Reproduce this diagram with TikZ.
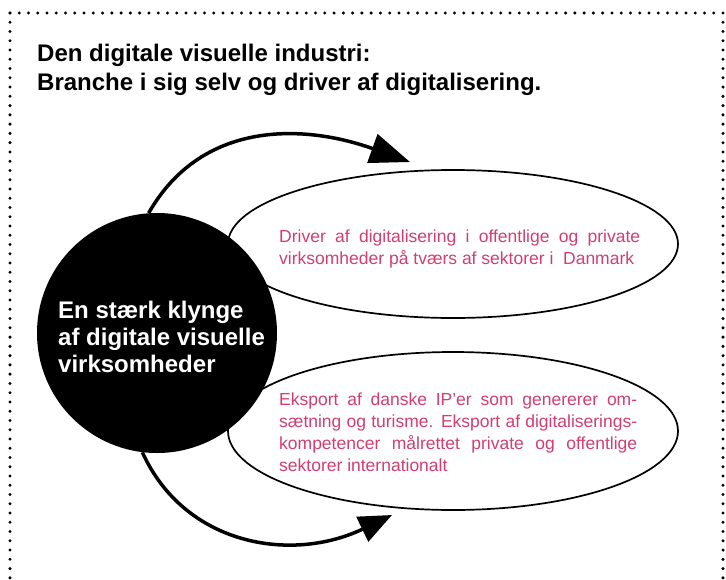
\documentclass[tikz,border=0pt]{standalone}
\usepackage{fontspec}
\setmainfont{Liberation Sans}
\usetikzlibrary{shapes.geometric,arrows.meta}
\definecolor{klyngepink}{RGB}{210,62,110}

\tikzset{
  prik/.style={line width=3.3pt,line cap=round,dash pattern=on 0pt off 9.26pt},
  felt/.style={draw,ellipse,line width=1.7pt,inner sep=0pt},
  felttekst/.style={text=klyngepink,font=\fontsize{17.5}{22}\selectfont,align=justify,inner sep=0pt,anchor=north west},
  pil/.style={line width=3.5pt,-{Triangle[length=40pt,width=30pt]}}
}

\begin{document}
\begin{tikzpicture}[x=1pt,y=-1pt]
\useasboundingbox (0,0) rectangle (726,579);
% ramme
\draw[prik] (10,13) -- (723,13) -- (723,600);
\draw[prik] (10,13) -- (10,600);
% overskrift
\node[anchor=north west,inner sep=0pt,align=left,font=\bfseries\fontsize{24}{29}\selectfont] (titel) at (37,43.5) {Den digitale visuelle industri:\\Branche i sig selv og driver af digitalisering.};
% felter
\node[felt,minimum width=450pt,minimum height=148pt] (driver) at (453,244) {};
\node[felt,minimum width=450pt,minimum height=158pt] (eksport) at (453,431) {};
\node[felttekst,text width=361pt] (drivertekst) at (279,229.2) {Driver af digitalisering i offentlige og private\linebreak virksomheder på tværs af sektorer i\ \ Danmark};
\node[felttekst,text width=358pt] (eksporttekst) at (279,393) {Eksport af danske IP’er som genererer om-\linebreak sætning og turisme. Eksport af digitaliserings-\linebreak kompetencer målrettet private og offentlige\linebreak sektorer internationalt};
% klynge
\node[circle,fill=black,minimum size=240pt,inner sep=0pt] (klynge) at (157,333) {};
\node[anchor=north west,inner sep=0pt,align=left,text=white,font=\bfseries\fontsize{24}{27}\selectfont] (klyngetekst) at (58,300.5) {En stærk klynge\\af digitale visuelle\\virksomheder};
% pile
\coordinate (tipdriver) at (410,162);
\coordinate (tipeksport) at (392,515);
\draw[pil] (klynge.94) .. controls (203,118) and (307,125) .. (tipdriver);
\draw[pil,-{Triangle[length=33pt,width=27pt]}] (klynge.263) .. controls (185,546) and (292,563) .. (tipeksport);
\end{tikzpicture}
\end{document}
